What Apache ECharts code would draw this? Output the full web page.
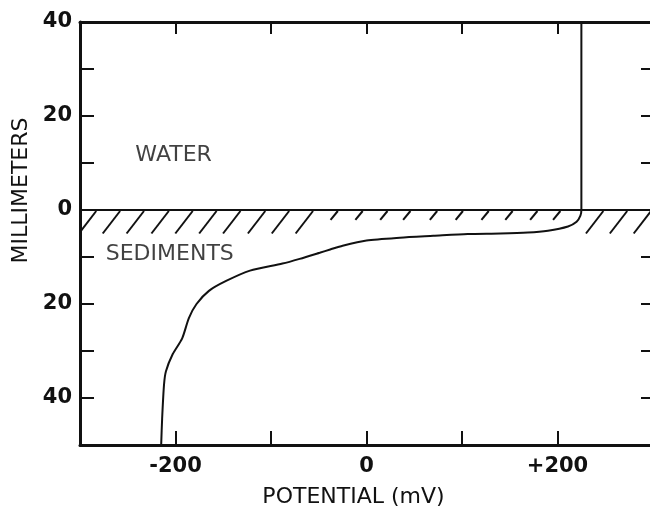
<!DOCTYPE html>
<html><head><meta charset="utf-8">
<script src="https://cdn.jsdelivr.net/npm/echarts@6/dist/echarts.min.js"></script>
<style>html,body{margin:0;padding:0;background:#fff}#c{width:650px;height:509px}</style>
</head><body><div id="c"></div>
<script>
// Potential profile (mV) vs depth (mm; positive = above sediment surface)
const curveX = [225, 225, 224, 220, 211, 190, 169, 140, 106, 70, 35, 0, -25, -38, -49, -70, -88, -122, -147, -165, -178, -186, -193, -203, -210, -212, -214, -215];
const curveY = [40, 0, -1.2, -2.5, -3.5, -4.4, -4.8, -5.0, -5.1, -5.5, -5.9, -6.5, -7.6, -8.4, -9.1, -10.4, -11.4, -12.9, -15.1, -17.2, -20.0, -23.0, -27.3, -30.7, -34.3, -37.1, -44.4, -50];

// Hatching along the sediment surface (top x in mV, depth in mm)
const hatchTopX = [-283, -258, -233, -207, -182, -157, -132, -106, -81, -56, -30, -4, 22, 46, 74, 101, 128, 153, 179, 203, 248, 273, 298];
const hatchDepth = [5, 5, 5, 5, 5, 5, 5, 5, 5, 5, 2.1, 2.1, 2.1, 2.1, 2.1, 2.1, 2.1, 2.1, 2.1, 2.1, 5, 5, 5];
const surfaceLevel = 0;

// Region annotations
const regionText = ['WATER', 'SEDIMENTS'];
const regionX = [-202, -206];
const regionY = [11.7, -9.5];

// Tick labels
const xLabelValues = [-200, 0, 200];
const xLabelTexts = ['-200', '0', '+200'];
const yLabelValues = [40, 20, 0, -20, -40];
const yLabelTexts = ['40', '20', '0', '20', '40'];

const INK = '#111';
const FONT = 'DejaVu Sans';

const chart = echarts.init(document.getElementById('c'), null, {renderer: 'canvas'});

function fmt(values, texts) {
  return v => {
    const i = values.findIndex(a => Math.abs(a - v) < 1e-6);
    return i >= 0 ? texts[i] : '';
  };
}

const labelStyle = {color: INK, fontFamily: FONT, fontSize: 21, fontWeight: 'bold'};

chart.setOption({
  animation: false,
  backgroundColor: '#fff',
  grid: {left: 80, top: 22, width: 573, height: 423, containLabel: false, outerBoundsMode: 'none'},
  xAxis: [
    {
      type: 'value', min: -300, max: 300, interval: 100, position: 'bottom',
      axisLine: {show: true, onZero: false, lineStyle: {color: INK, width: 3}},
      axisTick: {show: true, inside: true, length: 14, lineStyle: {color: INK, width: 2}},
      axisLabel: Object.assign({margin: 11, formatter: fmt(xLabelValues, xLabelTexts)}, labelStyle),
      splitLine: {show: false},
      name: 'POTENTIAL (mV)', nameLocation: 'middle', nameGap: 41,
      nameTextStyle: {color: INK, fontFamily: FONT, fontSize: 22, padding: [0, 26, 0, 0]}
    },
    {
      type: 'value', min: -300, max: 300, interval: 100, position: 'top',
      axisLine: {show: true, onZero: false, lineStyle: {color: INK, width: 3}},
      axisTick: {show: true, inside: true, length: 12, lineStyle: {color: INK, width: 2}},
      axisLabel: {show: false},
      splitLine: {show: false}
    }
  ],
  yAxis: [
    {
      type: 'value', min: -50, max: 40, interval: 10, position: 'left',
      axisLine: {show: true, onZero: false, lineStyle: {color: INK, width: 3}},
      axisTick: {show: true, inside: true, length: 14, lineStyle: {color: INK, width: 2}},
      axisLabel: Object.assign({margin: 8, formatter: fmt(yLabelValues, yLabelTexts)}, labelStyle),
      splitLine: {show: false},
      name: 'MILLIMETERS', nameLocation: 'middle', nameRotate: 90, nameGap: 48,
      nameTextStyle: {color: INK, fontFamily: FONT, fontSize: 22, padding: [0, 0, 0, 86]}
    },
    {
      type: 'value', min: -50, max: 40, interval: 10, position: 'right',
      axisLine: {show: true, onZero: false, lineStyle: {color: INK, width: 3}},
      axisTick: {show: true, inside: true, length: 12, lineStyle: {color: INK, width: 2}},
      axisLabel: {show: false},
      splitLine: {show: false}
    }
  ],
  series: [
    {
      type: 'custom',
      name: 'hatch',
      xAxisIndex: 0, yAxisIndex: 0,
      clip: true,
      silent: true,
      data: hatchTopX.map((x, i) => [x, hatchDepth[i]]),
      encode: {x: 0, y: 1},
      renderItem: (params, api) => {
        const xt = api.value(0), d = api.value(1);
        const top = api.coord([xt, surfaceLevel]);
        const bot = api.coord([xt, surfaceLevel - d]);
        const dy = bot[1] - top[1];
        return {
          type: 'line',
          shape: {x1: top[0], y1: top[1] + 1, x2: top[0] - dy * 17 / 23, y2: bot[1]},
          style: {stroke: INK, lineWidth: 2}
        };
      },
      markLine: {
        silent: true, symbol: 'none', label: {show: false},
        lineStyle: {color: INK, width: 2, type: 'solid'},
        data: [{yAxis: surfaceLevel}]
      }
    },
    {
      type: 'line',
      name: 'potential',
      xAxisIndex: 0, yAxisIndex: 0,
      data: curveX.map((x, i) => [x, curveY[i]]),
      showSymbol: false,
      smooth: 0.25,
      lineStyle: {color: INK, width: 2},
      silent: true
    },
    {
      type: 'scatter',
      name: 'regions',
      xAxisIndex: 0, yAxisIndex: 0,
      data: regionX.map((x, i) => [x, regionY[i], regionText[i]]),
      symbolSize: 1,
      itemStyle: {color: 'rgba(0,0,0,0)'},
      silent: true,
      label: {
        show: true, position: 'inside',
        formatter: p => p.value[2],
        color: INK, fontFamily: FONT, fontSize: 22
      }
    }
  ]
});
</script>
</body></html>
